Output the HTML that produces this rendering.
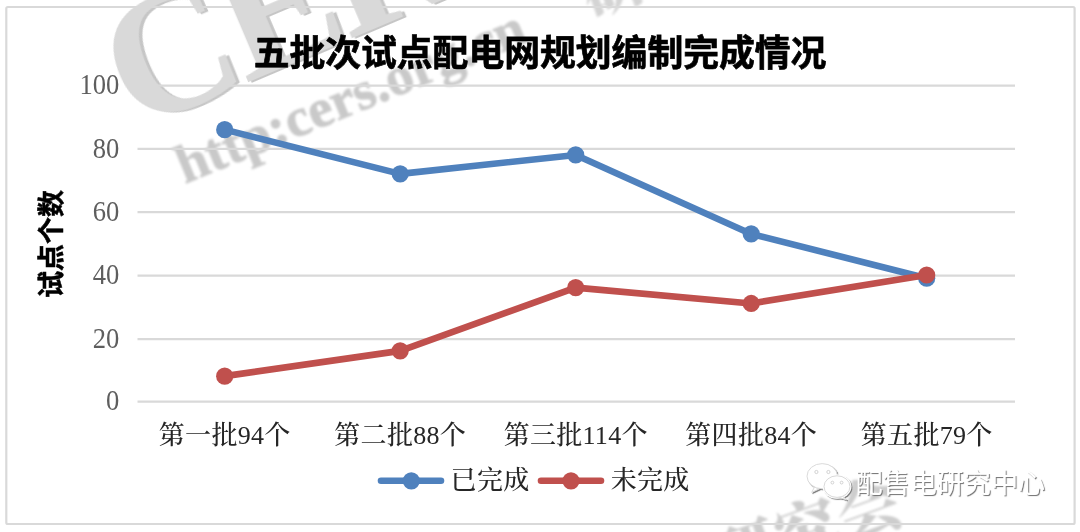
<!DOCTYPE html>
<html lang="zh-CN">
<head>
<meta charset="utf-8">
<title>五批次试点配电网规划编制完成情况</title>
<style>
html,body{margin:0;padding:0;background:#fff;}
body{width:1080px;height:532px;overflow:hidden;position:relative;}
svg{position:absolute;left:0;top:0;display:block;}
.serif{font-family:"Liberation Serif","Noto Serif CJK SC",serif;}
.sans{font-family:"Liberation Sans","Noto Sans CJK SC",sans-serif;}
</style>
</head>
<body>
<svg width="1080" height="532" viewBox="0 0 1080 532">
  <defs>
    <filter id="soft" x="-5%" y="-5%" width="110%" height="110%"><feGaussianBlur stdDeviation="0.7"/></filter>
    <filter id="soft2" x="-5%" y="-20%" width="110%" height="140%"><feGaussianBlur stdDeviation="1.1"/></filter>
    <filter id="sh" x="-5%" y="-20%" width="110%" height="140%">
      <feDropShadow dx="1.1" dy="1.1" stdDeviation="0.5" flood-color="#6e6e6e" flood-opacity="0.9"/>
    </filter>
  </defs>
  <rect x="0" y="0" width="1080" height="532" fill="#ffffff"/>

  <!-- background watermarks -->
  <g id="wm">
    <g class="serif" font-weight="bold" font-size="176" letter-spacing="-6" transform="translate(134.1,130.6) rotate(-23)" filter="url(#soft)">
      <text x="3" y="2" fill="#c6c6c6">CERS</text>
      <text x="0" y="0" fill="#d9d9d9">CERS</text>
    </g>
    <text class="serif" font-weight="bold" font-size="55" fill="#c9c9c9" stroke="#c9c9c9" stroke-width="0.7" transform="translate(185,184) rotate(-22.5)" x="0" y="0" filter="url(#soft2)">http:cers.org.cn</text>
    <text class="serif" font-weight="900" font-size="64" fill="#cdcdcd" transform="translate(726,585) rotate(-20)" x="0" y="0" filter="url(#soft2)">研究会</text>
    <text class="serif" font-weight="900" font-size="64" fill="#d4d4d4" transform="translate(590,16) rotate(-20)" x="0" y="0" filter="url(#soft2)">研</text>
  </g>

  <!-- chart border -->
  <rect x="6.3" y="7" width="1068.3" height="517" rx="1.5" fill="none" stroke="#d9d9d9" stroke-width="2.2"/>

  <!-- gridlines -->
  <g stroke="#d9d9d9" stroke-width="2.3" fill="none">
    <line x1="137.5" y1="401.6" x2="1015" y2="401.6"/>
    <line x1="137.5" y1="339.1" x2="1015" y2="339.1"/>
    <line x1="137.5" y1="275.7" x2="1015" y2="275.7"/>
    <line x1="137.5" y1="212.1" x2="1015" y2="212.1"/>
    <line x1="137.5" y1="148.8" x2="1015" y2="148.8"/>
    <line x1="137.5" y1="85.6" x2="1015" y2="85.6"/>
  </g>

  <!-- title -->
  <text class="sans" font-weight="bold" font-size="35.8" fill="#000" stroke="#000" stroke-width="0.7" x="540" y="66" text-anchor="middle">五批次试点配电网规划编制完成情况</text>

  <!-- y axis title -->
  <text class="sans" font-weight="bold" font-size="27" fill="#000" stroke="#000" stroke-width="0.5" transform="translate(60.7,244) rotate(-90)" text-anchor="middle" x="0" y="0">试点个数</text>

  <!-- y axis labels -->
  <g class="serif" font-size="29.5" fill="#5e5e5e" text-anchor="end">
    <text transform="translate(119.2,410.3) scale(0.9,1)" x="0" y="0">0</text>
    <text transform="translate(119.2,347.8) scale(0.9,1)" x="0" y="0">20</text>
    <text transform="translate(119.2,284.4) scale(0.9,1)" x="0" y="0">40</text>
    <text transform="translate(119.2,220.8) scale(0.9,1)" x="0" y="0">60</text>
    <text transform="translate(119.2,157.5) scale(0.9,1)" x="0" y="0">80</text>
    <text transform="translate(119.2,94.3) scale(0.9,1)" x="0" y="0">100</text>
  </g>

  <!-- x axis labels -->
  <g class="serif" font-size="26" font-weight="500" letter-spacing="0.3" fill="#262626" text-anchor="middle">
    <text x="224.7" y="444.4">第一批94个</text>
    <text x="400.2" y="444.4">第二批88个</text>
    <text x="575.7" y="444.4">第三批114个</text>
    <text x="751.2" y="444.4">第四批84个</text>
    <text x="926.7" y="444.4">第五批79个</text>
  </g>

  <!-- series: completed (blue) -->
  <g>
    <polyline points="224.7,129.66 400.2,173.9 575.7,154.94 751.2,233.94 926.7,278.18" fill="none" stroke="#4f81bd" stroke-width="6.6" stroke-linejoin="round" stroke-linecap="round"/>
    <circle cx="224.7" cy="129.66" r="8.6" fill="#4f81bd"/>
    <circle cx="400.2" cy="173.9" r="8.6" fill="#4f81bd"/>
    <circle cx="575.7" cy="154.94" r="8.6" fill="#4f81bd"/>
    <circle cx="751.2" cy="233.94" r="8.6" fill="#4f81bd"/>
    <circle cx="926.7" cy="278.18" r="8.6" fill="#4f81bd"/>
  </g>
  <!-- series: not completed (red) -->
  <g>
    <polyline points="224.7,376.14 400.2,350.86 575.7,287.66 751.2,303.46 926.7,275.02" fill="none" stroke="#c0504d" stroke-width="6.6" stroke-linejoin="round" stroke-linecap="round"/>
    <circle cx="224.7" cy="376.14" r="8.6" fill="#c0504d"/>
    <circle cx="400.2" cy="350.86" r="8.6" fill="#c0504d"/>
    <circle cx="575.7" cy="287.66" r="8.6" fill="#c0504d"/>
    <circle cx="751.2" cy="303.46" r="8.6" fill="#c0504d"/>
    <circle cx="926.7" cy="275.02" r="8.6" fill="#c0504d"/>
  </g>

  <!-- legend -->
  <g>
    <line x1="381" y1="480.8" x2="441" y2="480.8" stroke="#4f81bd" stroke-width="6.6" stroke-linecap="round"/>
    <circle cx="411.3" cy="480.8" r="8.6" fill="#4f81bd"/>
    <text class="serif" font-size="26" font-weight="500" letter-spacing="0.3" fill="#262626" x="450.6" y="488.6">已完成</text>
    <line x1="541" y1="480.8" x2="601" y2="480.8" stroke="#c0504d" stroke-width="6.6" stroke-linecap="round"/>
    <circle cx="571" cy="480.8" r="8.6" fill="#c0504d"/>
    <text class="serif" font-size="26" font-weight="500" letter-spacing="0.3" fill="#262626" x="610.7" y="488.6">未完成</text>
  </g>

  <!-- wechat watermark -->
  <g id="wx" filter="url(#sh)">
    <g fill="#fff" stroke="#dadada" stroke-width="1">
      <path d="M814.5 487 l-2.8 5.4 l7.6 -3.6 z"/>
      <ellipse cx="822.2" cy="476.2" rx="15.2" ry="12.6"/>
    </g>
    <ellipse cx="837" cy="486.6" rx="14.4" ry="12.1" fill="#fff"/>
    <g fill="#fff" stroke="#dadada" stroke-width="1">
      <path d="M842.5 496.2 l4.2 3.6 l-8 -2.4 z"/>
      <ellipse cx="837" cy="486.6" rx="13" ry="10.8"/>
    </g>
    <text class="sans" font-size="27.1" x="855.5" y="492.8" fill="#ffffff">配售电研究中心</text>
  </g>
  <g fill="#fff" stroke="#c8c8c8" stroke-width="0.8">
    <circle cx="816.4" cy="472" r="1.6"/><circle cx="828.4" cy="472" r="1.6"/>
    <circle cx="832.4" cy="482.6" r="1.4"/><circle cx="841.6" cy="482.6" r="1.4"/>
  </g>
</svg>
</body>
</html>
